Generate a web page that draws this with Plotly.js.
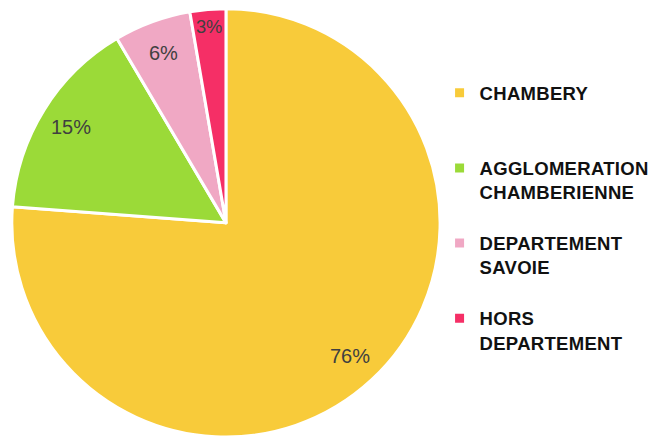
<!DOCTYPE html>
<html>
<head>
<meta charset="utf-8">
<script src="https://cdn.plot.ly/plotly-3.0.1.min.js"></script>
<style>html,body{margin:0;padding:0;background:#fff;}#chart{width:664px;height:437px;}
#chart .legendtext{letter-spacing:0.3px;}</style>
</head>
<body>
<div id="chart"></div>
<script>
const categories = ["CHAMBERY", "AGGLOMERATION<br>CHAMBERIENNE", "DEPARTEMENT<br>SAVOIE", "HORS<br>DEPARTEMENT"];
const values = [76.2, 15.3, 5.8, 2.7];
const colors = ["#F8CB3A", "#9BDA38", "#F0A8C4", "#F52F66"];

// pad each legend label to three lines so all items take equal height
const legendLabels = categories.map(c => {
  const n = c.split("<br>").length;
  return c + "<br>&nbsp;".repeat(3 - n);
});

const domX = [0.0166, 0.664], domY = [0, 0.98];
const W = 664, H = 437;
const total = values.reduce((a, b) => a + b, 0);

// large slices: label placed via annotation at mid-angle; small slices use the pie's own inside text
const annotated = [true, true, false, false];
const labelFrac = 0.85;
const cxPx = (domX[0] + domX[1]) / 2 * W;
const cyPx = (domY[0] + domY[1]) / 2 * H;
const rPx = Math.min((domX[1] - domX[0]) * W, (domY[1] - domY[0]) * H) / 2;
const annotations = [];
let cum = 0;
values.forEach((v, i) => {
  const mid = (cum + v / 2) / total * 2 * Math.PI;
  cum += v;
  if (!annotated[i]) return;
  const dx = Math.sin(mid) * rPx * labelFrac;
  const dy = Math.cos(mid) * rPx * labelFrac;
  annotations.push({
    xref: "paper", yref: "paper",
    x: (cxPx + dx) / W, y: (cyPx + dy) / H,
    xanchor: "center", yanchor: "middle",
    text: Math.round(v / total * 100) + "%",
    showarrow: false,
    font: { family: "Liberation Sans, Arial, sans-serif", size: 20, color: "#404040" }
  });
});

const trace = {
  type: "pie",
  labels: legendLabels,
  values: values,
  sort: false,
  direction: "clockwise",
  rotation: 0,
  marker: { colors: colors, line: { color: "#ffffff", width: 3 } },
  texttemplate: "%{percent:.0%}",
  textposition: annotated.map(a => a ? "none" : "inside"),
  insidetextorientation: "horizontal",
  textfont: { family: "Liberation Sans, Arial, sans-serif", size: 20, color: "#404040" },
  hoverinfo: "percent",
  domain: { x: domX, y: domY }
};

const layout = {
  width: W,
  height: H,
  margin: { l: 0, r: 0, t: 0, b: 0 },
  paper_bgcolor: "#ffffff",
  showlegend: true,
  annotations: annotations,
  legend: {
    x: 0.662, xanchor: "left",
    y: 0.83, yanchor: "top",
    valign: "top",
    font: { family: "Liberation Sans, Arial, sans-serif", size: 18.5, color: "#111111", weight: "bold" },
    bgcolor: "rgba(0,0,0,0)"
  }
};

Plotly.newPlot("chart", [trace], layout, { displayModeBar: false, staticPlot: true });
</script>
</body>
</html>
